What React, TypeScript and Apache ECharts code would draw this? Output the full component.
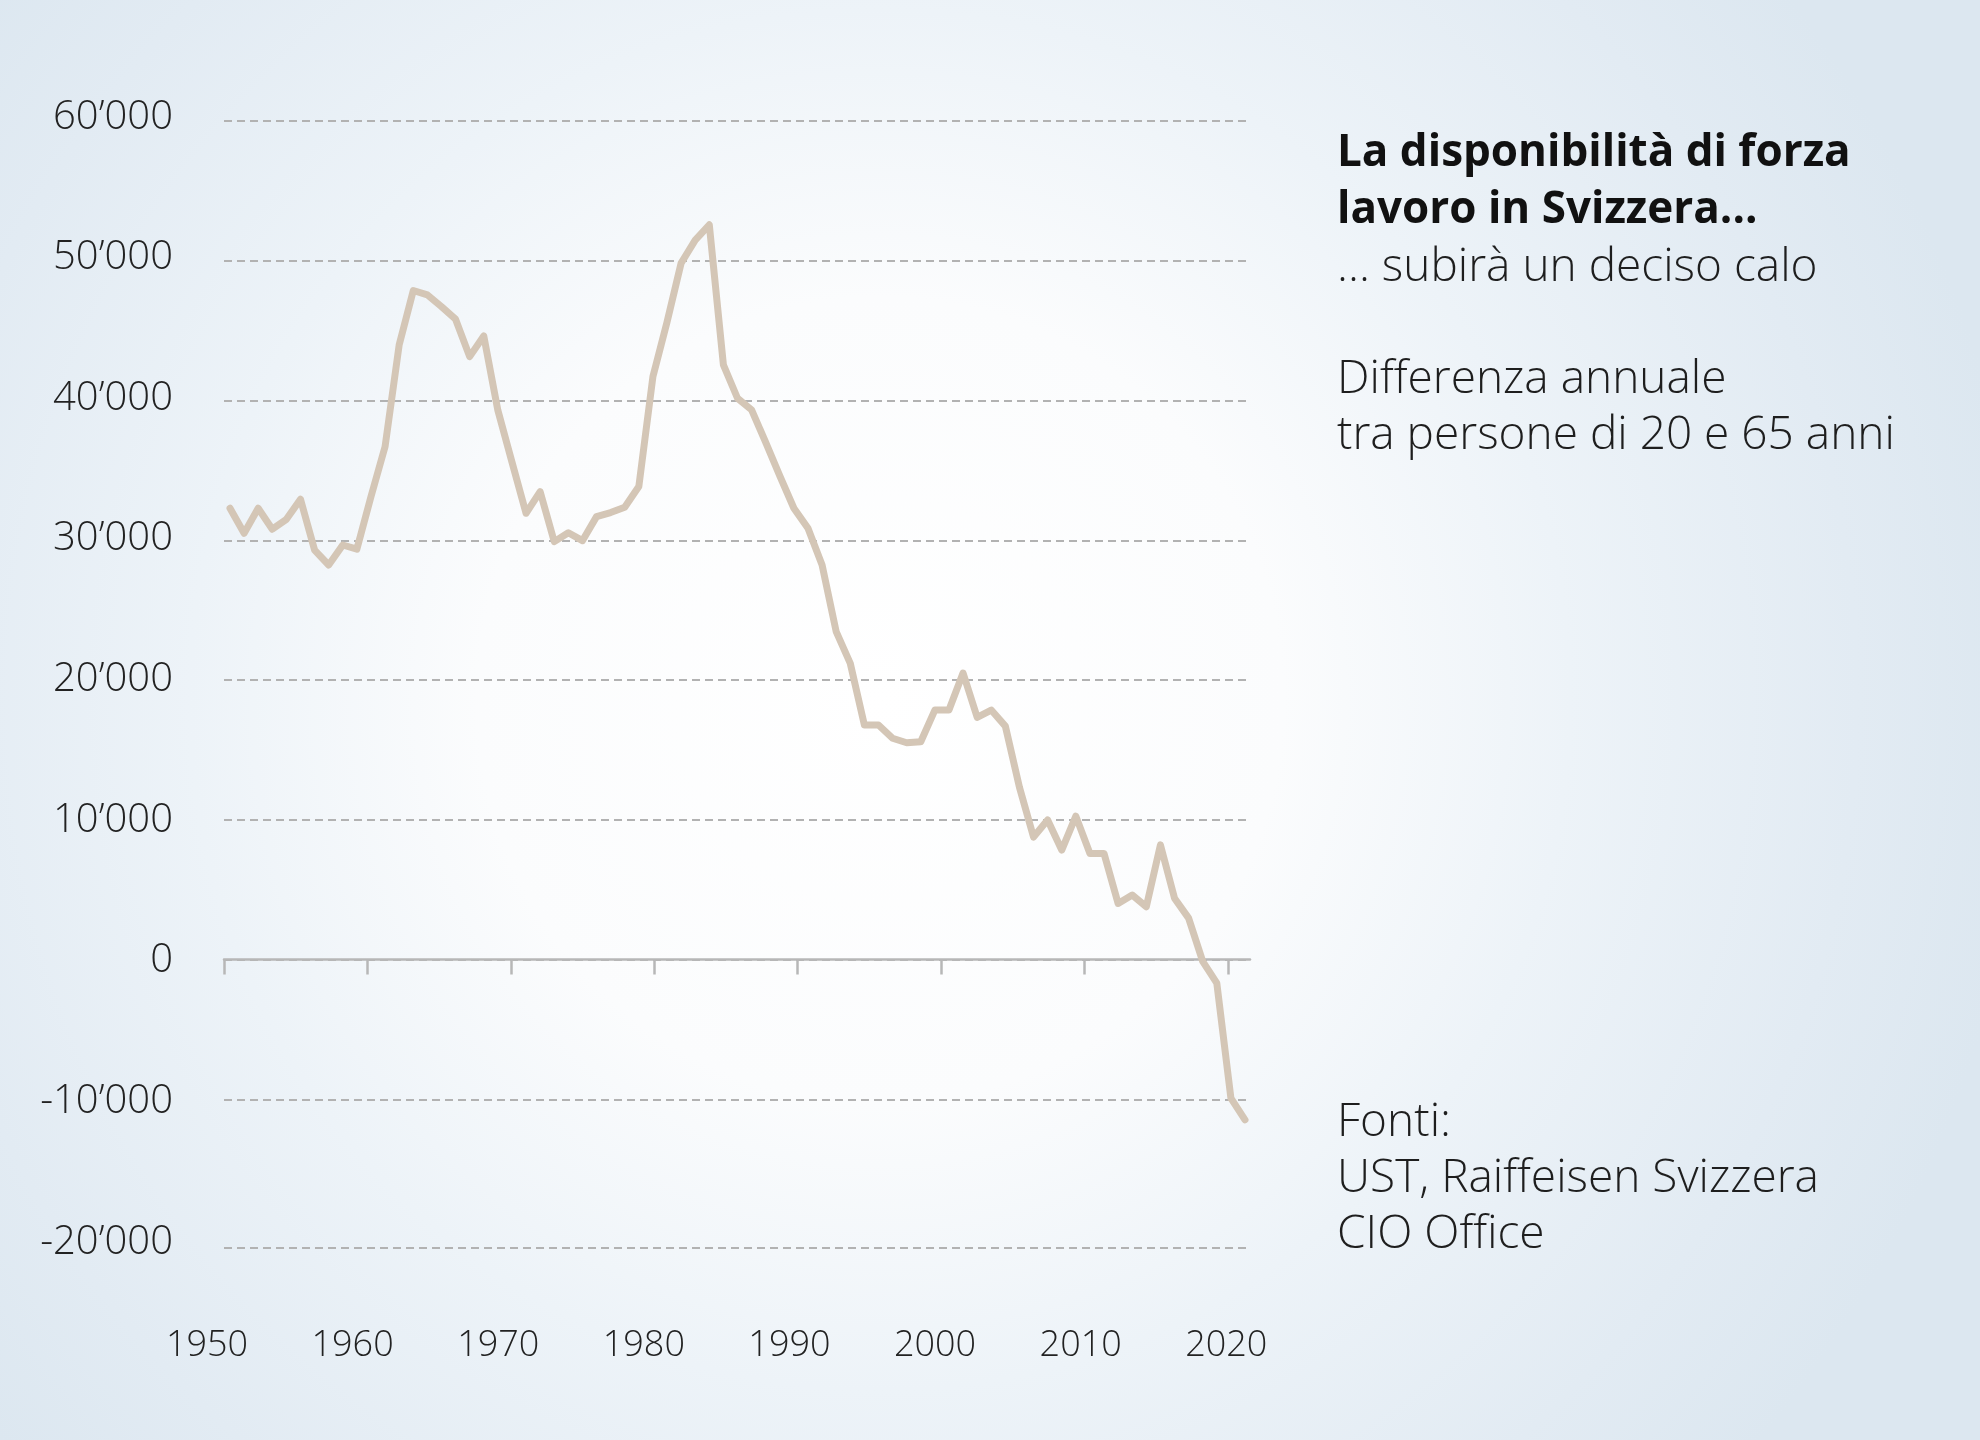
import React, { useEffect, useRef } from "react";
import * as echarts from "echarts";

const years = [
  1950, 1951, 1952, 1953, 1954, 1955, 1956, 1957, 1958, 1959,
  1960, 1961, 1962, 1963, 1964, 1965, 1966, 1967, 1968, 1969,
  1970, 1971, 1972, 1973, 1974, 1975, 1976, 1977, 1978, 1979,
  1980, 1981, 1982, 1983, 1984, 1985, 1986, 1987, 1988, 1989,
  1990, 1991, 1992, 1993, 1994, 1995, 1996, 1997, 1998, 1999,
  2000, 2001, 2002, 2003, 2004, 2005, 2006, 2007, 2008, 2009,
  2010, 2011, 2012, 2013, 2014, 2015, 2016, 2017, 2018, 2019,
  2020, 2021, 2022,
];

const difference = [
  32290, 30500, 32290, 30790, 31500, 32930, 29300, 28230, 29660, 29360,
  33120, 36700, 43980, 47870, 47560, 46720, 45820, 43140, 44620, 39300,
  35600, 31930, 33480, 29900, 30540, 29970, 31690, 31980, 32360, 33840,
  41710, 45600, 49830, 51470, 52570, 42550, 40160, 39330, 37000, 34600,
  32290, 30860, 28230, 23460, 21190, 16780, 16780, 15830, 15510, 15580,
  17850, 17850, 20500, 17330, 17850, 16700, 12330, 8760, 9980, 7830,
  10260, 7590, 7590, 4010, 4610, 3780, 8200, 4390, 2960, -140,
  -1690, -9920, -11470,
];

const xTicks = [1950, 1960, 1970, 1980, 1990, 2000, 2010, 2020];
const xTickLabels = ["1950", "1960", "1970", "1980", "1990", "2000", "2010", "2020"];

const yTicks = [-20000, -10000, 0, 10000, 20000, 30000, 40000, 50000, 60000];
const yTickLabels = [
  "-20\u2019000", "-10\u2019000", "0", "10\u2019000", "20\u2019000",
  "30\u2019000", "40\u2019000", "50\u2019000", "60\u2019000",
];

// dashed guides; the lowest one sits slightly below its "-20'000" label in the original
const gridGuides = [-20640, -10000, 0, 10000, 20000, 30000, 40000, 50000, 60000];

const titleLines = ["La disponibilità di forza", "lavoro in Svizzera..."];
const subtitleLines = ["... subirà un deciso calo", "", "Differenza annuale", "tra persone di 20 e 65 anni"];
const sourceLines = ["Fonti:", "UST, Raiffeisen Svizzera", "CIO Office"];

const FONT = "'Open Sans', 'Noto Sans', sans-serif";

export default function App() {
  const ref = useRef<HTMLDivElement>(null);

  useEffect(() => {
    document.body.style.margin = "0";
    const chart = echarts.init(ref.current!, undefined, { renderer: "svg" });

    const tx = 1337;
    const graphics: any[] = [
      {
        type: "text",
        x: tx,
        y: 120,
        style: {
          text: titleLines.join("\n"),
          fontFamily: FONT,
          fontSize: 44,
          fontWeight: "bold",
          lineHeight: 57,
          fill: "#111111",
          verticalAlign: "top",
        },
      },
      {
        type: "text",
        x: tx,
        y: 234.5,
        style: {
          text: subtitleLines.join("\n"),
          fontFamily: FONT,
          fontSize: 46,
          fontWeight: 300,
          lineHeight: 56,
          fill: "#1e1e1e",
          verticalAlign: "top",
        },
      },
      {
        type: "text",
        x: tx,
        y: 1089.5,
        style: {
          text: sourceLines.join("\n"),
          fontFamily: FONT,
          fontSize: 46,
          fontWeight: 300,
          lineHeight: 56,
          fill: "#1e1e1e",
          verticalAlign: "top",
        },
      },
    ];

    const axisGray = "#b7b7b7";
    const gridDash = { color: "#b2b2b2", width: 2, type: [8, 5] as number[] };
    const labelFont = { fontFamily: FONT, fontWeight: 300, color: "#222222" };

    // 10'000 units = 139.75 px in the plot
    const unitPx = 139.75 / 10000;
    const plotTop = 121;
    const plotHeight = (60000 - gridGuides[0]) * unitPx;

    chart.setOption({
      animation: false,
      backgroundColor: {
        type: "radial",
        x: 880,
        y: 700,
        r: 1150,
        global: true,
        colorStops: [
          { offset: 0, color: "#ffffff" },
          { offset: 0.35, color: "#fbfcfd" },
          { offset: 0.6, color: "#edf3f8" },
          { offset: 0.85, color: "#e2ebf3" },
          { offset: 1, color: "#dce7f0" },
        ],
      },
      grid: [
        { left: 224, top: plotTop, width: 1026, height: plotHeight },
        { left: 207, top: 113, width: 1019.3, height: 1125 },
      ],
      xAxis: [
        {
          gridIndex: 0,
          type: "value",
          min: 1949.574,
          max: 2022.355,
          show: false,
        },
        {
          gridIndex: 0,
          type: "value",
          min: 1950,
          max: 2021.55,
          interval: 10,
          position: "bottom",
          axisLine: {
            show: true,
            onZero: true,
            onZeroAxisIndex: 0,
            lineStyle: { color: axisGray, width: 2.5 },
          },
          axisTick: {
            show: true,
            length: 15,
            customValues: xTicks,
            lineStyle: { color: axisGray, width: 2.5 },
          },
          axisLabel: { show: false },
          splitLine: { show: false },
        },
        {
          gridIndex: 1,
          type: "value",
          min: 1950,
          max: 2020,
          interval: 10,
          position: "bottom",
          axisLine: { show: false, onZero: false },
          axisTick: { show: false },
          splitLine: { show: false },
          axisLabel: {
            show: true,
            margin: 86,
            fontSize: 36,
            ...labelFont,
            formatter: (v: number) => {
              const i = xTicks.indexOf(Math.round(v));
              return i >= 0 ? xTickLabels[i] : "";
            },
          },
        },
      ],
      yAxis: [
        {
          gridIndex: 0,
          type: "value",
          min: gridGuides[0],
          max: 60000,
          axisLine: { show: false, onZero: false },
          axisTick: { show: false, customValues: gridGuides },
          axisLabel: { show: false, customValues: gridGuides },
          splitLine: {
            show: true,
            customValues: gridGuides,
            lineStyle: gridDash,
          },
        },
        {
          gridIndex: 1,
          type: "value",
          min: -20000,
          max: 60000,
          interval: 10000,
          axisLine: { show: false, onZero: false },
          axisTick: { show: false },
          splitLine: { show: false },
          axisLabel: {
            margin: 34,
            fontSize: 40,
            ...labelFont,
            formatter: (v: number) => {
              const i = yTicks.indexOf(Math.round(v));
              return i >= 0 ? yTickLabels[i] : "";
            },
          },
        },
      ],
      series: [
        {
          type: "line",
          xAxisIndex: 0,
          yAxisIndex: 0,
          data: years.map((y, i) => [y, difference[i]]),
          symbol: "none",
          smooth: false,
          clip: false,
          z: 5,
          lineStyle: { color: "#d4c6b6", width: 7, cap: "round", join: "round" },
        },
      ],
      graphic: graphics,
    });

    return () => chart.dispose();
  }, []);

  return (
    <div
      ref={ref}
      style={{ position: "fixed", left: 0, top: 0, width: 1980, height: 1440 }}
    />
  );
}
